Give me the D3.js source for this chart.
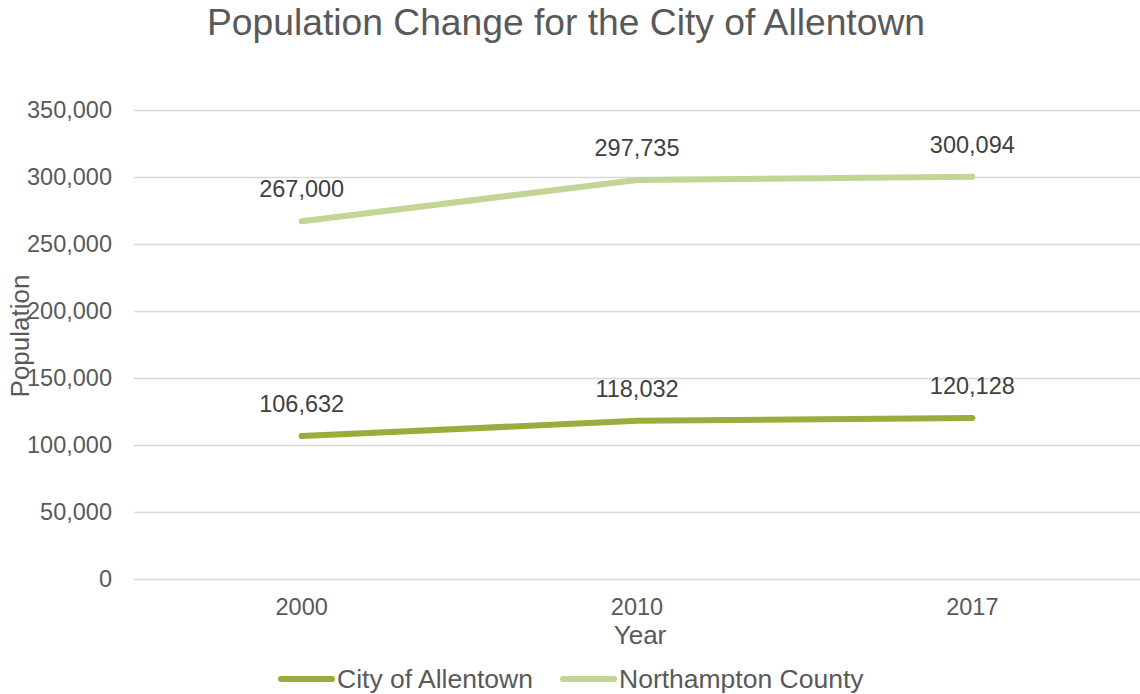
<!DOCTYPE html>
<html>
<head>
<meta charset="utf-8">
<script src="https://cdn.jsdelivr.net/npm/d3@7"></script>
<style>
  html, body { margin: 0; padding: 0; background: #fff; }
  svg { display: block; font-family: "Liberation Sans", Arial, sans-serif; }
</style>
</head>
<body>
<svg id="chart" width="1140" height="694"></svg>
<script>
// Population by census year
const years = ["2000", "2010", "2017"];
const allentown = [106632, 118032, 120128];
const northampton = [267000, 297735, 300094];
const seriesNames = ["City of Allentown", "Northampton County"];
const seriesColors = ["#97AE3F", "#C2D596"];
const yTicks = [0, 50000, 100000, 150000, 200000, 250000, 300000, 350000];

const svg = d3.select("#chart");
const plot = { left: 134, right: 1140, top: 110, bottom: 579 };

const x = d3.scaleBand().domain(years).range([plot.left, plot.right]);
const y = d3.scaleLinear().domain([0, 350000]).range([plot.bottom, plot.top]);
const fmt = d3.format(",");
const cx = yr => x(yr) + x.bandwidth() / 2;

// Title
svg.append("text")
  .attr("x", 566).attr("y", 35)
  .attr("text-anchor", "middle")
  .attr("font-size", 36)
  .attr("fill", "#595959")
  .attr("textLength", 718).attr("lengthAdjust", "spacingAndGlyphs")
  .text("Population Change for the City of Allentown");

// Horizontal gridlines and y tick labels
const yAxis = d3.axisLeft(y).tickValues(yTicks).tickFormat(fmt)
  .tickSize(-(plot.right - plot.left)).tickPadding(22);
const gy = svg.append("g").attr("transform", `translate(${plot.left},0)`).call(yAxis);
gy.select(".domain").remove();
gy.selectAll(".tick line").attr("stroke", "#D9D9D9").attr("stroke-width", 1.5);
gy.selectAll(".tick text").attr("fill", "#595959").attr("font-size", 23.5)
  .attr("font-family", "Liberation Sans, Arial, sans-serif");

// X tick labels
const xAxis = d3.axisBottom(x).tickSize(0).tickPadding(19);
const gx = svg.append("g").attr("transform", `translate(0,${plot.bottom})`).call(xAxis);
gx.select(".domain").remove();
gx.selectAll(".tick text").attr("fill", "#595959").attr("font-size", 23.5)
  .attr("font-family", "Liberation Sans, Arial, sans-serif");

// Axis titles
svg.append("text")
  .attr("x", 640).attr("y", 644)
  .attr("text-anchor", "middle")
  .attr("font-size", 26).attr("fill", "#595959")
  .text("Year");
svg.append("text")
  .attr("transform", "translate(29,336) rotate(-90)")
  .attr("text-anchor", "middle")
  .attr("font-size", 26).attr("fill", "#595959")
  .text("Population");

// Lines with value labels
const line = d3.line().x((d, i) => cx(years[i])).y(d => y(d));
[allentown, northampton].forEach((vals, s) => {
  svg.append("path")
    .datum(vals)
    .attr("d", line)
    .attr("fill", "none")
    .attr("stroke", seriesColors[s])
    .attr("stroke-width", 6)
    .attr("stroke-linecap", "round")
    .attr("stroke-linejoin", "round");
  svg.selectAll(null).data(vals).enter().append("text")
    .attr("x", (d, i) => cx(years[i]))
    .attr("y", d => y(d) - 24)
    .attr("text-anchor", "middle")
    .attr("font-size", 23.5).attr("fill", "#404040")
    .text(d => fmt(d));
});

// Legend
const legendX = [281, 563];
seriesNames.forEach((name, s) => {
  const g = svg.append("g").attr("transform", `translate(${legendX[s]},679)`);
  g.append("line").attr("x1", 0).attr("x2", 51).attr("y1", 0).attr("y2", 0)
    .attr("stroke", seriesColors[s]).attr("stroke-width", 6).attr("stroke-linecap", "round");
  g.append("text").attr("x", 56).attr("y", 9)
    .attr("font-size", 26.5).attr("fill", "#595959")
    .text(name);
});
</script>
</body>
</html>
